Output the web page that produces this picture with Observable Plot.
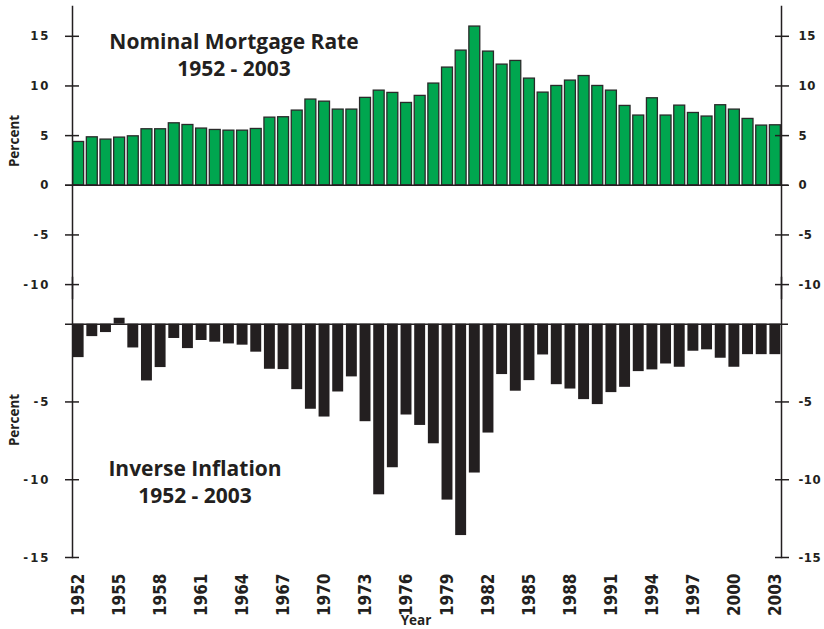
<!DOCTYPE html>
<html><head><meta charset="utf-8">
<script src="https://cdn.jsdelivr.net/npm/d3@7"></script>
<script src="https://cdn.jsdelivr.net/npm/@observablehq/plot@0.6"></script>
<style>
body{margin:0;background:#fff}
#wrap{position:relative;width:824px;height:629px;overflow:hidden;font-family:"Open Sans",sans-serif;color:#231f20}
.panel{position:absolute;left:0}
.title{position:absolute;text-align:center;font-size:21px;font-weight:700;line-height:27px;white-space:nowrap;width:300px}
.lab{position:absolute;font-weight:700;font-size:13.5px;white-space:nowrap;line-height:15px}
.panel svg g[aria-label="y-axis tick label"][text-anchor="end"] text{letter-spacing:2px}
.panel svg g[aria-label="y-axis tick label"][text-anchor="start"] text{letter-spacing:0.5px}
</style></head>
<body><div id="wrap">
<div id="top" class="panel" style="top:0"></div>
<div id="bot" class="panel" style="top:270px"></div>
<div class="title" style="left:84px;top:28px">Nominal Mortgage Rate<br>1952 - 2003</div>
<div class="title" style="left:45px;top:455px">Inverse Inflation<br>1952 - 2003</div>
<div class="lab" style="left:14px;top:141px;transform:translate(-50%,-50%) rotate(-90deg)">Percent</div>
<div class="lab" style="left:14px;top:420px;transform:translate(-50%,-50%) rotate(-90deg)">Percent</div>
<div class="lab" style="left:416px;top:613px;transform:translateX(-50%)">Year</div>
</div>
<script>
const years = [1952,1953,1954,1955,1956,1957,1958,1959,1960,1961,
  1962,1963,1964,1965,1966,1967,1968,1969,1970,1971,
  1972,1973,1974,1975,1976,1977,1978,1979,1980,1981,
  1982,1983,1984,1985,1986,1987,1988,1989,1990,1991,
  1992,1993,1994,1995,1996,1997,1998,1999,2000,2001,
  2002,2003];
const mortgageRate = [4.36,4.83,4.6,4.8,4.93,5.64,5.64,6.24,6.07,5.71,
  5.57,5.5,5.5,5.67,6.81,6.85,7.52,8.63,8.42,7.62,
  7.62,8.8,9.53,9.3,8.29,9.0,10.24,11.85,13.56,15.98,
  13.46,12.15,12.52,10.74,9.33,10.0,10.54,11.0,10.0,9.53,
  7.99,7.02,8.76,7.02,8.02,7.28,6.92,8.06,7.62,6.68,
  6.01,6.04];
const inverseInflation = [-2.15,-0.8,-0.54,0.38,-1.53,-3.65,-2.79,-0.92,-1.57,-1.05,
  -1.16,-1.27,-1.35,-1.8,-2.9,-2.92,-4.21,-5.47,-5.97,-4.36,
  -3.39,-6.27,-10.97,-9.23,-5.84,-6.51,-7.69,-11.31,-13.59,-9.57,
  -7.0,-3.24,-4.31,-3.63,-1.98,-3.89,-4.17,-4.85,-5.17,-4.4,
  -4.06,-3.05,-2.94,-2.56,-2.77,-1.74,-1.65,-2.19,-2.77,-1.96,
  -1.96,-1.96];
const yearTicks = [1952,1955,1958,1961,1964,1967,1970,1973,1976,1979,1982,1985,1988,1991,1994,1997,2000,2003];
const topTicks = [15,10,5,0,-5,-10];
const botTicks = [-5,-10,-15];

const fmt = d => (d < 0 ? "-" : "") + Math.abs(d);
const tickFont = '"Liberation Sans Narrow","DejaVu Sans Condensed","Liberation Sans",sans-serif';
const ink = "#231f20";
const xOpts = {type:"band", domain: years.map(String), paddingInner:0.2, paddingOuter:0.05};

const topData = years.map((y,i)=>({year:String(y), value:mortgageRate[i]}));
const botData = years.map((y,i)=>({year:String(y), value:inverseInflation[i]}));

function yAxes(ticks) {
  return [
    Plot.frame({anchor:"left", stroke:ink, strokeWidth:1.5}),
    Plot.frame({anchor:"right", stroke:ink, strokeWidth:1.5}),
    Plot.axisY({anchor:"left", ticks, tickSize:14, dx:7, tickPadding:15, tickFormat:fmt, label:null, stroke:ink, strokeWidth:1.5, fill:ink}),
    Plot.axisY({anchor:"right", ticks, tickSize:14, dx:-7, tickPadding:10, tickFormat:fmt, label:null, stroke:ink, strokeWidth:1.5, fill:ink})
  ];
}

const topPlot = Plot.plot({
  width:824, height:300, marginLeft:72, marginRight:43, marginTop:6, marginBottom:2,
  x:{...xOpts, axis:null},
  y:{domain:[-11.4,18], axis:null},
  style:{background:"transparent", fontFamily:tickFont, fontSize:"13px", fontWeight:"bold", color:ink, overflow:"visible"},
  marks:[
    Plot.barY(topData, {x:"year", y:"value", fill:"#00a64f", stroke:"#2a2a2a", strokeWidth:1.3}),
    Plot.ruleY([0], {insetLeft:-7, insetRight:-7, stroke:ink, strokeWidth:1.5}),
    ...yAxes(topTicks)
  ]
});
document.getElementById("top").appendChild(topPlot);

const botPlot = Plot.plot({
  width:824, height:359, marginLeft:72, marginRight:43, marginTop:7, marginBottom:72,
  x:{...xOpts, axis:null},
  y:{domain:[-15,3], axis:null},
  style:{background:"transparent", fontFamily:tickFont, fontSize:"13px", fontWeight:"bold", color:ink, overflow:"visible"},
  marks:[
    Plot.barY(botData, {x:"year", y:"value", fill:ink}),
    Plot.ruleY([0], {insetLeft:-7, insetRight:-7, stroke:ink, strokeWidth:1.5}),
    ...yAxes(botTicks),
    Plot.axisX({anchor:"bottom", ticks:yearTicks.map(String), tickRotate:-90, tickSize:0, tickPadding:16, fontSize:17, fill:ink, label:null})
  ]
});
document.getElementById("bot").appendChild(botPlot);
</script>
</body></html>
